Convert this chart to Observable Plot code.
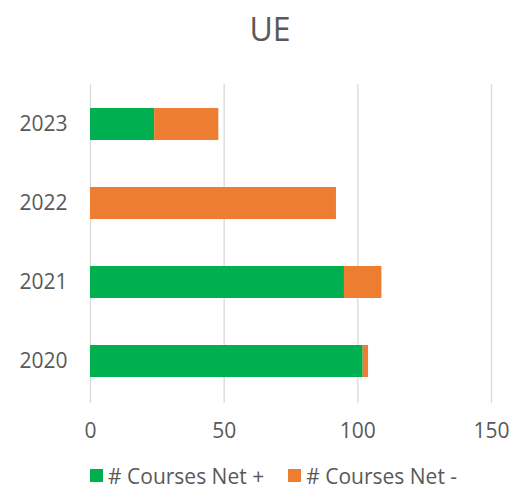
<!DOCTYPE html>
<html>
<head>
<meta charset="utf-8">
<script src="https://cdn.jsdelivr.net/npm/d3@7"></script>
<script src="https://cdn.jsdelivr.net/npm/@observablehq/plot@0.6"></script>
<style>
  html, body { margin: 0; padding: 0; background: #fff; overflow: hidden; }
  #wrap { position: relative; width: 514px; height: 490px; font-family: "Open Sans", sans-serif; color: #595959; }
  #title { position: absolute; left: 0; width: 540px; top: 7px; text-align: center; font-size: 32px; line-height: 44px; color: #595959; }
  #chart { position: absolute; left: 0; top: 0; }
  #legend { position: absolute; left: 90px; top: 461px; font-size: 21px; line-height: 26px; white-space: nowrap; color: #595959; }
  .item { display: inline-flex; align-items: center; margin-right: 24px; }
  .sw { width: 13px; height: 13px; display: inline-block; margin-right: 5px; }
</style>
</head>
<body>
<div id="wrap">
  <div id="title"></div>
  <div id="chart"></div>
  <div id="legend"></div>
</div>
<script>
const title = "UE";
const years = ["2020", "2021", "2022", "2023"];
const netPlus = [102, 95, 0, 24];
const netMinus = [2, 14, 92, 24];
const seriesNames = ["# Courses Net +", "# Courses Net -"];
const seriesColors = ["#00B050", "#ED7D31"];
const xTicks = [0, 50, 100, 150];

const data = [];
years.forEach((y, i) => {
  data.push({year: y, series: seriesNames[0], value: netPlus[i]});
  data.push({year: y, series: seriesNames[1], value: netMinus[i]});
});

document.getElementById("title").textContent = title;

const chart = Plot.plot({
  width: 514,
  height: 450,
  marginTop: 84,
  marginBottom: 50,
  marginLeft: 90,
  marginRight: 23,
  style: {fontFamily: "Open Sans, sans-serif", fontSize: "21px", color: "#595959", background: "transparent"},
  x: {domain: [0, 150], ticks: xTicks, tickSize: 0, tickPadding: 23, label: null},
  y: {domain: years.slice().reverse(), paddingInner: 0.6, paddingOuter: 0.3, tickSize: 0, tickPadding: 23, label: null},
  color: {domain: seriesNames, range: seriesColors},
  marks: [
    Plot.ruleX(xTicks, {stroke: "#d9d9d9", strokeWidth: 1.3, insetBottom: -3}),
    Plot.barX(data, Plot.stackX({y: "year", x: "value", fill: "series", order: seriesNames})),
    Plot.axisX({ticks: xTicks, tickSize: 0, tickPadding: 23, fontSize: 21, fill: "#595959"}),
    Plot.axisY({tickSize: 0, tickPadding: 23, fontSize: 21, fill: "#595959"})
  ]
});
document.getElementById("chart").appendChild(chart);

const legend = document.getElementById("legend");
seriesNames.forEach((n, i) => {
  const it = document.createElement("span");
  it.className = "item";
  const sw = document.createElement("span");
  sw.className = "sw";
  sw.style.background = seriesColors[i];
  it.appendChild(sw);
  it.appendChild(document.createTextNode(n));
  legend.appendChild(it);
});
</script>
</body>
</html>
